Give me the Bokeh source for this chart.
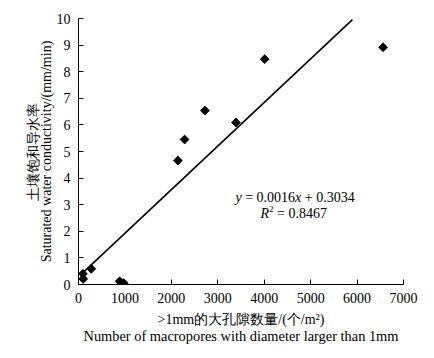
from bokeh.plotting import figure
from bokeh.models import Range1d, LinearAxis, FixedTicker, Label, ColumnDataSource
from bokeh.embed import file_html
from bokeh.resources import INLINE
import math

# ---- data ----
macropores = [95, 100, 275, 885, 975, 2140, 2285, 2722, 3390, 4010, 6560]
conductivity = [0.40, 0.21, 0.59, 0.12, 0.05, 4.66, 5.45, 6.54, 6.09, 8.47, 8.92]
fit_x = [80, 5900]          # extent of the drawn trend line
fit_y = [0.42, 9.96]
x_ticks = [0, 1000, 2000, 3000, 4000, 5000, 6000, 7000]
y_ticks = [0, 1, 2, 3, 4, 5, 6, 7, 8, 9, 10]
eq_text = ["y", "= 0.0016", "x", "+ 0.3034"]
r2_text = ["R", "2", "= 0.8467"]

SERIF = "Liberation Serif"
FS = "14px"

p = figure(width=434, height=358, output_backend="svg", toolbar_location=None,
           x_range=Range1d(0, 7000), y_range=Range1d(0, 10),
           min_border_left=78, min_border_right=31, min_border_top=18, min_border_bottom=74)
p.outline_line_color = None
p.grid.visible = False
p.background_fill_color = "white"
p.border_fill_color = "white"

def style_axis(ax):
    ax.axis_line_color = "black"
    ax.axis_line_width = 1
    ax.major_tick_line_color = "black"
    ax.major_tick_in = 5
    ax.major_tick_out = 0
    ax.minor_tick_line_color = None
    ax.major_label_text_font = SERIF
    ax.major_label_text_font_size = FS
    ax.major_label_text_color = "black"
    ax.axis_label_text_font = SERIF
    ax.axis_label_text_font_size = FS
    ax.axis_label_text_font_style = "normal"
    ax.axis_label_text_color = "black"

xa = p.xaxis[0]
ya = p.yaxis[0]
style_axis(xa)
style_axis(ya)
xa.ticker = FixedTicker(ticks=x_ticks)
ya.ticker = FixedTicker(ticks=y_ticks)
xa.major_label_standoff = 8
ya.major_label_standoff = 8
xa.axis_label = ">1mm的大孔隙数量/(个/m²)"
xa.axis_label_standoff = 6
ya.axis_label = "Saturated water conductivity/(mm/min)"
ya.axis_label_standoff = 0

# second-line titles as tick-less axes
xa2 = LinearAxis(ticker=FixedTicker(ticks=[]))
style_axis(xa2)
xa2.axis_line_color = None
xa2.major_label_standoff = 0
xa2.axis_label_standoff = -2
xa2.axis_label_text_font_size = "14.4px"
xa2.axis_label = "Number of macropores with diameter larger than 1mm"
p.add_layout(xa2, "below")

ya2 = LinearAxis(ticker=FixedTicker(ticks=[]))
style_axis(ya2)
ya2.axis_line_color = None
ya2.major_label_standoff = 0
ya2.axis_label_standoff = -5
ya2.axis_label = "土壤饱和导水率"
p.add_layout(ya2, "left")

# trend line and points
p.line(fit_x, fit_y, line_color="black", line_width=1.6)
src = ColumnDataSource(dict(x=macropores, y=conductivity))
p.scatter("x", "y", source=src, marker="square", angle=math.pi / 4,
          size=6.2, fill_color="black", line_color="black")

# equation annotation
def add_parts(parts, styles, sizes, offsets, x, y, yoffs):
    for t, st, sz, off, yo in zip(parts, styles, sizes, offsets, yoffs):
        p.add_layout(Label(x=x, y=y, x_offset=off, y_offset=yo, text=t,
                           text_font=SERIF, text_font_size=sz, text_font_style=st,
                           text_color="black", text_baseline="middle", text_align="left"))

add_parts(eq_text, ["italic", "normal", "italic", "normal"],
          ["14px"] * 4, [0, 9.7, 59.6, 69.3],
          3381, 3.27, [0, 0, 0, 0])
add_parts(r2_text, ["italic", "normal", "normal"],
          ["14px", "9px", "14px"], [0, 8.6, 16.6],
          3920, 2.67, [0, 4, 0])

open("out.html", "w").write(file_html(p, INLINE))
